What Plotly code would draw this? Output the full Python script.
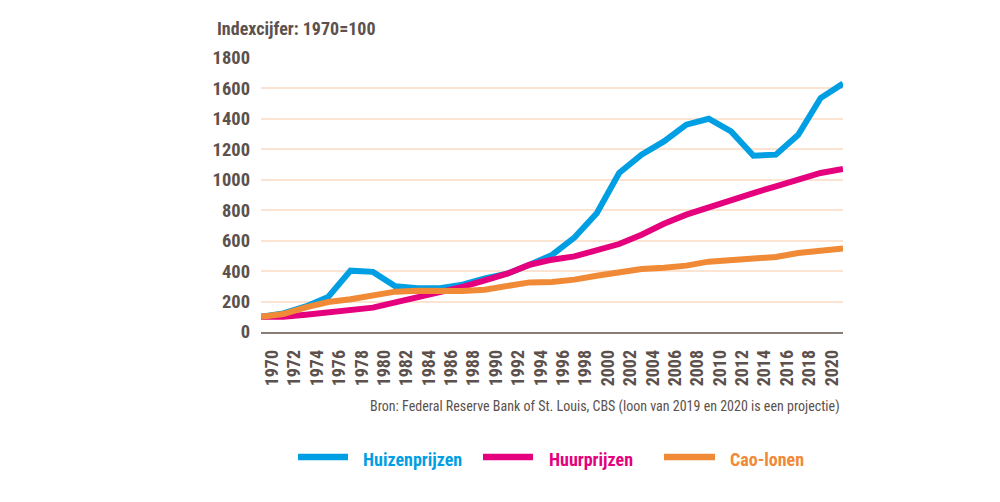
import plotly.graph_objects as go

# ---- data ----
years = list(range(1970, 2023, 2))  # positions of the line vertices
huizenprijzen = [100, 122, 168, 230, 403, 395, 300, 287, 287, 311, 352, 383, 442, 506,
                 620, 780, 1045, 1165, 1252, 1362, 1401, 1318, 1158, 1165, 1296, 1537, 1632]
huurprijzen = [100, 101, 114, 131, 145, 160, 195, 227, 263, 296, 339, 383, 442, 475,
               497, 536, 578, 639, 711, 771, 821, 867, 913, 957, 1001, 1045, 1071]
cao_lonen = [100, 118, 162, 197, 215, 238, 265, 271, 266, 269, 278, 304, 326, 328,
             344, 370, 388, 414, 422, 436, 462, 475, 484, 493, 519, 536, 549]
tick_labels = [str(y) for y in range(1970, 2021, 2)]
tick_positions = [y + 1 for y in range(1970, 2021, 2)]
y_ticks = list(range(0, 1801, 200))

series_names = ["Huizenprijzen", "Huurprijzen", "Cao-lonen"]
series_values = [huizenprijzen, huurprijzen, cao_lonen]
colors = ["#009FE3", "#E5007D", "#F08A36"]

FONT = "Liberation Sans Narrow, Roboto Condensed, DejaVu Sans Condensed, Arial Narrow, sans-serif"
TEXT = "#5C514C"

fig = go.Figure()
for name, vals, col in zip(series_names, series_values, colors):
    fig.add_trace(go.Scatter(x=years, y=vals, mode="lines", name=name,
                             line=dict(color=col, width=6), showlegend=False))

# page has an 8px body margin, so margins are shifted by 8px
fig.update_layout(
    width=1000, height=502,
    margin=dict(l=253, r=165, t=50, b=178),
    paper_bgcolor="white", plot_bgcolor="white",
    font=dict(family=FONT, color=TEXT),
    xaxis=dict(range=[1970, 2022], tickmode="array", tickvals=tick_positions,
               ticktext=tick_labels, tickangle=-90, showgrid=False, zeroline=False,
               showline=True, linecolor="#877C76", linewidth=1.5, ticks="",
               tickfont=dict(size=18, family=FONT, color=TEXT, weight="bold"),
               ticklabelstandoff=9),
    yaxis=dict(range=[0, 1800], tickmode="array", tickvals=y_ticks,
               showgrid=True, gridcolor="#FCE3D2", gridwidth=1.5, zeroline=False,
               showline=False, ticks="",
               tickfont=dict(size=18.5, family=FONT, color=TEXT, weight="bold"),
               ticklabelstandoff=10),
)

# convert screenshot pixel positions to paper coords (plot area 261..843 x 58..332)
def px(x):
    return (x - 261) / 582
def py(y):
    return (332 - y) / 274

fig.add_annotation(x=px(215), y=py(29), xref="paper", yref="paper",
                   text="<b>Indexcijfer: 1970=100</b>",
                   showarrow=False, xanchor="left", yanchor="middle",
                   font=dict(size=18, family=FONT, color=TEXT))

fig.add_annotation(x=px(842), y=py(406), xref="paper", yref="paper",
                   text="Bron: Federal Reserve Bank of St. Louis, CBS (loon van 2019 en 2020 is een projectie)",
                   showarrow=False, xanchor="right", yanchor="middle",
                   font=dict(size=14, family=FONT, color=TEXT))

legend_lines = [(298, 348), (483, 533), (664, 715)]
legend_text_x = [361, 547, 728]
for (x0, x1), tx, name, col in zip(legend_lines, legend_text_x, series_names, colors):
    fig.add_shape(type="line", xref="paper", yref="paper", x0=px(x0), x1=px(x1),
                  y0=py(457), y1=py(457), line=dict(color=col, width=6.5))
    fig.add_annotation(x=px(tx), y=py(459), xref="paper", yref="paper",
                       text="<b>" + name + "</b>", showarrow=False,
                       xanchor="left", yanchor="middle",
                       font=dict(size=18, family=FONT, color=col))

fig.write_html("out.html")
